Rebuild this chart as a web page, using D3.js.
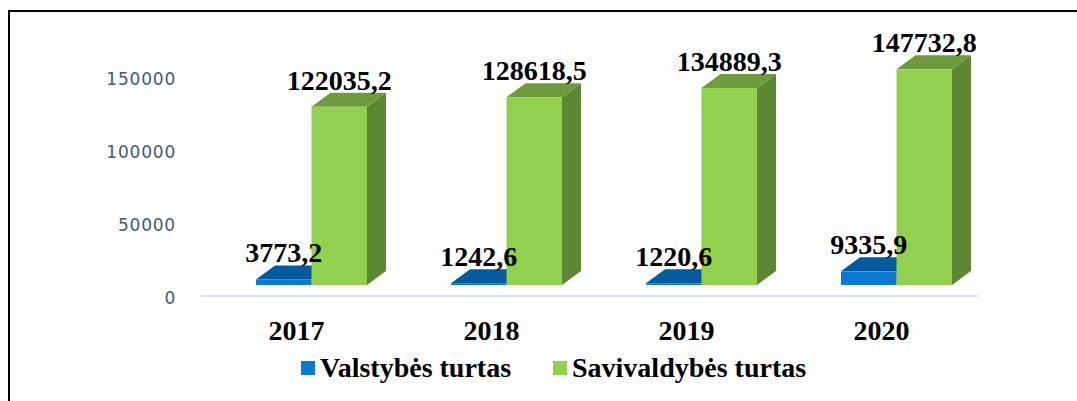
<!DOCTYPE html>
<html>
<head>
<meta charset="utf-8">
<script src="https://cdn.jsdelivr.net/npm/d3@7"></script>
<style>
    body { margin: 0; background: #fff; }
    svg { display: block; }
</style>
</head>
<body>
<svg id="drawing_region"></svg>
<script>
const years = ['2017', '2018', '2019', '2020'];
const seriesNames = ['Valstybės turtas', 'Savivaldybės turtas'];
const valstybes = [3773.2, 1242.6, 1220.6, 9335.9];
const savivaldybes = [122035.2, 128618.5, 134889.3, 147732.8];
const yTicks = [0, 50000, 100000, 150000];
const valueLabels = ['3773,2', '1242,6', '1220,6', '9335,9', '122035,2', '128618,5', '134889,3', '147732,8'];

const config = {
    width: 1077,
    height: 401,
    depth: { dx: 19, dy: 14 },
};

const colors = [
    { front: '#0a79d3', top: '#035b9e', side: '#024d87' },
    { front: '#92d050', top: '#6e9c3c', side: '#5e8733' },
];

// flatten to one record per bar
const bars = [];
[valstybes, savivaldybes].forEach((vals, si) => {
    vals.forEach((v, i) => {
        bars.push({ year: years[i], series: seriesNames[si], si: si, value: v, label: valueLabels[si * 4 + i] });
    });
});

const svg = d3.select('#drawing_region')
    .attr('width', config.width)
    .attr('height', config.height);

// frame around the chart
svg.append('rect')
    .attr('x', 9).attr('y', 11)
    .attr('width', 1200).attr('height', 500)
    .attr('fill', 'none')
    .attr('stroke', '#000')
    .attr('stroke-width', 2);

// scales
const xscale = d3.scaleBand().domain(years).range([199, 979]);
const xinner = d3.scaleBand().domain(seriesNames).range([57, 168]);
const yaxisScale = d3.scaleLinear().domain([0, 150000]).range([298, 79]);
const yscale = d3.scaleLinear().domain([0, 150000]).range([285, 66]);

// y axis labels
const yaxis = d3.axisLeft(yaxisScale)
    .tickValues(yTicks)
    .tickSize(0)
    .tickPadding(0)
    .tickFormat(d3.format('d'));

const yaxisGroup = svg.append('g')
    .attr('transform', 'translate(176,0)')
    .call(yaxis);
yaxisGroup.select('.domain').remove();
yaxisGroup.selectAll('text')
    .attr('font-family', 'DejaVu Sans, Verdana, sans-serif')
    .attr('font-size', '17px')
    .attr('letter-spacing', '0.8px')
    .attr('fill', '#3e5b78')
    .attr('dy', '0.35em');

// floor line
svg.append('line')
    .attr('x1', xscale.range()[0]).attr('x2', xscale.range()[1])
    .attr('y1', 296).attr('y2', 296)
    .attr('stroke', '#dbe5ee')
    .attr('stroke-width', 2);

// 3d bars
const base = yscale(0);
const dx = config.depth.dx, dy = config.depth.dy;
const barG = svg.append('g').selectAll('g')
    .data(bars.slice().sort((a, b) => d3.ascending(a.year, b.year) || a.si - b.si))
    .enter().append('g');

barG.each(function(d) {
    const g = d3.select(this);
    const x0 = xscale(d.year) + xinner(d.series);
    const x1 = x0 + xinner.bandwidth();
    const yv = yscale(d.value);
    const c = colors[d.si];
    g.append('polygon')
        .attr('points', [[x1, yv], [x1 + dx, yv - dy], [x1 + dx, base - dy], [x1, base]].join(' '))
        .attr('fill', c.side);
    g.append('polygon')
        .attr('points', [[x0, yv], [x0 + dx, yv - dy], [x1 + dx, yv - dy], [x1, yv]].join(' '))
        .attr('fill', c.top);
    g.append('rect')
        .attr('x', x0).attr('y', yv)
        .attr('width', x1 - x0).attr('height', base - yv)
        .attr('fill', c.front);
});

// value labels
svg.append('g').selectAll('text')
    .data(bars)
    .enter().append('text')
    .attr('x', d => xscale(d.year) + xinner(d.series) + xinner.bandwidth() / 2)
    .attr('y', d => yscale(d.value) - dy - 3)
    .attr('text-anchor', 'middle')
    .attr('font-family', 'Liberation Serif, Times New Roman, serif')
    .attr('font-weight', 'bold')
    .attr('font-size', '28px')
    .attr('fill', '#000')
    .text(d => d.label);

// year labels
svg.append('g').selectAll('text')
    .data(years)
    .enter().append('text')
    .attr('x', d => xscale(d) + xscale.bandwidth() / 2)
    .attr('y', 340)
    .attr('text-anchor', 'middle')
    .attr('font-family', 'Liberation Serif, Times New Roman, serif')
    .attr('font-weight', 'bold')
    .attr('font-size', '28px')
    .attr('fill', '#000')
    .text(d => d);

// legend
const legendX = [301, 553];
const legend = svg.append('g').selectAll('g')
    .data(seriesNames)
    .enter().append('g')
    .attr('transform', (d, i) => `translate(${legendX[i]}, 361)`);
legend.append('rect')
    .attr('width', 14).attr('height', 14)
    .attr('fill', (d, i) => colors[i].front);
legend.append('text')
    .attr('x', 19).attr('y', 16)
    .attr('font-family', 'Liberation Serif, Times New Roman, serif')
    .attr('font-weight', 'bold')
    .attr('font-size', '28px')
    .attr('fill', '#000')
    .text(d => d);
</script>
</body>
</html>
